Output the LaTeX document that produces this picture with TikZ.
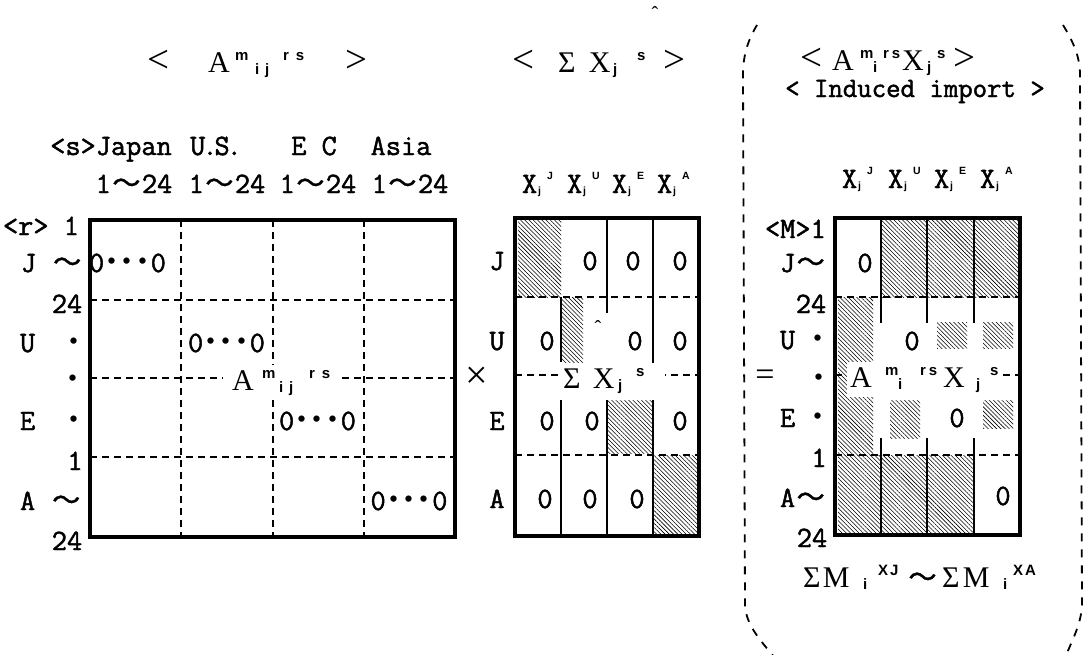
\documentclass[tikz,border=0pt]{standalone}
\usepackage{fontspec}
\usepackage{graphicx}
\usetikzlibrary{patterns.meta}
\newfontfamily\monof[FakeBold=1.6]{Latin Modern Mono}
\newfontfamily\serf{Liberation Serif}
\newfontfamily\sansf{Liberation Sans}
\newfontfamily\cjkf{Noto Sans CJK JP}
\newfontfamily\cjkt[FakeBold=1.2]{Noto Sans CJK JP}
\newcommand\mono{\monof\fontsize{29.5}{29.5}\selectfont}
\newcommand\titf{\serf\fontsize{30}{30}\selectfont}
\newcommand\up[1]{\raisebox{12pt}{\sansf\bfseries\fontsize{15}{15}\selectfont #1}}
\newcommand\dn[1]{\raisebox{-2pt}{\sansf\bfseries\fontsize{15}{15}\selectfont #1}}
\newcommand\hup[1]{\raisebox{14pt}{\sansf\bfseries\fontsize{10.5}{10.5}\selectfont #1}}
\newcommand\hdn[1]{\raisebox{-1pt}{\sansf\bfseries\fontsize{10.5}{10.5}\selectfont #1}}
\newcommand\seg[2]{\makebox[#1pt][l]{#2}}
\newcommand\lt{\scalebox{1.3}{<}}
\newcommand\gt{\scalebox{1.3}{>}}
\newcommand\tld{\makebox[31pt]{\cjkt\fontsize{28}{28}\selectfont ～}}
\newcommand\dt{\makebox[15.5pt]{\cjkf\bfseries\fontsize{30}{30}\selectfont ･}}
\newcommand\cel{\hspace*{15.5pt}}
\newcommand\Xh[2]{\seg{#1}{\seg{16}{X}\seg{9}{\hdn{j}}\hup{#2}}}
\begin{document}
\begin{tikzpicture}[x=1pt,y=-1pt,
  every node/.style={inner sep=0pt,outer sep=0pt},
  mn/.style={font=\mono,anchor=base},
  mnw/.style={font=\mono,anchor=base west},
  tw/.style={font=\titf,anchor=base west},
  gridl/.style={line width=1.6pt,dash pattern=on 7pt off 5pt},
  sol/.style={line width=2pt},
  bord/.style={line width=3.8pt},
  hatch/.style={pattern={Lines[angle=-45,distance=3pt,line width=0.55pt]}},
  encl/.style={line width=1.8pt,dash pattern=on 8pt off 8pt},
  wbox/.style={fill=white,inner xsep=3pt,inner ysep=5pt}]
\useasboundingbox (0,0) rectangle (1083,654);
\fill[white] (0,0) rectangle (1083,654);

% enclosure
\draw[encl] (757,25) .. controls (748,40) and (743,55) .. (743,75) -- (745,605) .. controls (746,625) and (760,640) .. (775,658);
\draw[encl] (1063,25) .. controls (1072,40) and (1080,55) .. (1080,75) -- (1082,605) .. controls (1081,625) and (1072,640) .. (1065,658);

% titles
\node[tw] (t1) at (147,72) {\seg{61}{\lt}\seg{27}{A}\seg{20}{\up{m}}\seg{28}{\dn{i\hspace{6pt}j}}\seg{62}{\up{r\hspace{7pt}s}}\gt};
\node[tw] (t2) at (512,72) {\seg{46}{\lt}\seg{31}{Σ}\seg{24}{X}\seg{24}{\dn{j}}\seg{26}{\up{s}}\gt};
\node[tw] (t3) at (800,70) {\seg{32}{\lt}\seg{28}{A}\seg{13}{\up{m}}\seg{10}{\dn{i}}\seg{19}{\up{r\hspace{3pt}s}}\seg{25}{X}\seg{10}{\dn{j}}\seg{16}{\up{s}}\gt};
\node[mn,font=\monof\fontsize{28}{28}\selectfont] (t3b) at (915,97) {< Induced import >};
\node[anchor=base,font=\serf\fontsize{20}{20}\selectfont] (c1) at (655,20) {ˆ};

% left headers
\node[mn] (hJ) at (111,155) {<s>Japan};
\node[mn] (hU) at (216,155) {U\kern-3pt.\kern-3pt S\kern-3pt.};
\node[mn] (hE) at (314,155) {E C};
\node[mn] (hA) at (401,155) {Asia};
\node[mn] (n1) at (134,193) {1\tld24};
\node[mn] (n2) at (227,193) {1\tld24};
\node[mn] (n3) at (318,193) {1\tld24};
\node[mn] (n4) at (410,193) {1\tld24};

% left row labels
\node[mnw] (lr) at (3,235) {<r> 1};
\node[mnw] (lJ) at (21,272) {J\cel\tld};
\node[mn] (l24) at (67,313) {24};
\node[mnw] (lU) at (20,352) {U\cel\cel\dt};
\node[mnw] (ld) at (65,389) {\dt};
\node[mnw] (lE) at (20,430) {E\cel\cel\dt};
\node[mn] (l1) at (75,470) {1};
\node[mnw] (lA) at (20,510) {A\cel\tld};
\node[mn] (l24b) at (67,550) {24};

% left matrix
\draw[gridl] (90,300) -- (455,300) (90,378) -- (455,378) (90,457) -- (455,457);
\draw[gridl] (181,220) -- (181,537) (273,220) -- (273,537) (364,220) -- (364,537);
\draw[bord] (90,220) rectangle (455,537);
\node[mn] (z1) at (127.5,272) {0\dt\dt\dt0};
\node[mn] (z2) at (226.5,352) {0\dt\dt\dt0};
\node[mn] (z3) at (317.5,430) {0\dt\dt\dt0};
\node[mn] (z4) at (409,510) {0\dt\dt\dt0};
\node[wbox,font=\titf,anchor=base west,inner xsep=9pt] (lAm) at (223,390) {\seg{30}{A}\seg{17}{\up{m}}\seg{30}{\dn{i\hspace{6pt}j}}\up{r\hspace{7pt}s}};

\node[font=\serf\fontsize{40}{40}\selectfont] (times) at (477,378) {×};

% middle matrix
\node[mnw] (mh) at (522,193) {\Xh{45}{J}\Xh{45}{U}\Xh{45}{E}\Xh{45}{A}};
\node[mn] (mJ) at (497,270) {J};
\node[mn] (mU) at (497,350) {U};
\node[mn] (mE) at (497,430) {E};
\node[mn] (mA) at (497,508) {A};
\fill[hatch] (518,220) rectangle (561,297);
\fill[hatch] (562,297) rectangle (583,362);
\fill[hatch] (607,400) rectangle (653,453);
\fill[hatch] (653,455) rectangle (697,533);
\draw[gridl] (515,297) -- (699,297) (515,375) -- (699,375) (515,455) -- (699,455);
\draw[sol] (561,297) -- (561,362) (561,400) -- (561,536);
\draw[sol] (607,218) -- (607,313) (607,400) -- (607,536);
\draw[sol] (653,218) -- (653,363) (653,400) -- (653,536);
\draw[bord] (515,218) rectangle (699,536);
\node[mn] (m11) at (590,270) {0};
\node[mn] (m12) at (633,270) {0};
\node[mn] (m13) at (680,270) {0};
\node[mn] (m21) at (547,350) {0};
\node[mn] (m22) at (635,350) {0};
\node[mn] (m23) at (680,350) {0};
\node[mn] (m31) at (547,430) {0};
\node[mn] (m32) at (592,430) {0};
\node[mn] (m33) at (680,430) {0};
\node[mn] (m41) at (545,508) {0};
\node[mn] (m42) at (590,508) {0};
\node[mn] (m43) at (637,508) {0};
\node[anchor=base,font=\serf\fontsize{20}{20}\selectfont] (c2) at (598,334) {ˆ};
\node[wbox,font=\titf,anchor=base west] (mS) at (560,388) {\seg{30}{Σ}\seg{25}{X}\seg{18}{\dn{j}}\seg{26}{\up{s}}};

\node[font=\serf\fontsize{34}{34}\selectfont] (eq) at (765,378) {=};

% right matrix
\node[mnw] (rh) at (842,188) {\Xh{46}{J}\Xh{46}{U}\Xh{46}{E}\Xh{46}{A}};
\node[mnw] (rM) at (765,238) {<M>1};
\node[mnw] (rJ) at (780,272) {J\tld};
\node[mn] (r24) at (811,313) {24};
\node[mnw] (rU) at (780,349) {U\cel\dt};
\node[mnw] (rd) at (811,388) {\dt};
\node[mnw] (rE) at (780,427) {E\cel\dt};
\node[mn] (r1) at (819,467) {1};
\node[mnw] (rA) at (780,507) {A\tld};
\node[mn] (r24b) at (812,547) {24};
\fill[hatch] (881,218) rectangle (1020,297);
\fill[hatch] (838,297) rectangle (873,455);
\fill[hatch] (937,322) rectangle (967,348);
\fill[hatch] (983,322) rectangle (1013,348);
\fill[hatch] (890,400) rectangle (920,438);
\fill[hatch] (983,400) rectangle (1013,428);
\fill[hatch] (838,455) rectangle (974,533);
\draw[gridl] (835,297) -- (1020,297) (835,375) -- (1020,375) (835,455) -- (1020,455);
\draw[sol] (881,218) -- (881,323) (927,218) -- (927,323) (974,218) -- (974,323);
\draw[sol] (881,438) -- (881,535) (927,438) -- (927,535) (974,438) -- (974,535);
\draw[bord] (835,218) rectangle (1020,535);
\node[mn] (q1) at (865,272) {0};
\node[mn] (q2) at (912,350) {0};
\node[mn] (q3) at (957,427) {0};
\node[mn] (q4) at (1003,505) {0};
\node[wbox,font=\titf,anchor=base west] (rAm) at (847,387) {\seg{35}{A}\seg{13}{\up{m}}\seg{22}{\dn{i}}\seg{23}{\up{r\hspace{3pt}s}}\seg{33}{X}\seg{14}{\dn{j}}\up{s}};
\node[tw] (rS) at (803,587) {\seg{20}{Σ}\seg{40}{M}\seg{15}{\dn{i}}\seg{29}{\up{X\hspace{2pt}J}}\seg{35}{\tld}\seg{21}{Σ}\seg{40}{M}\seg{10}{\dn{i}}\up{X\hspace{2pt}A}};
\end{tikzpicture}
\end{document}
